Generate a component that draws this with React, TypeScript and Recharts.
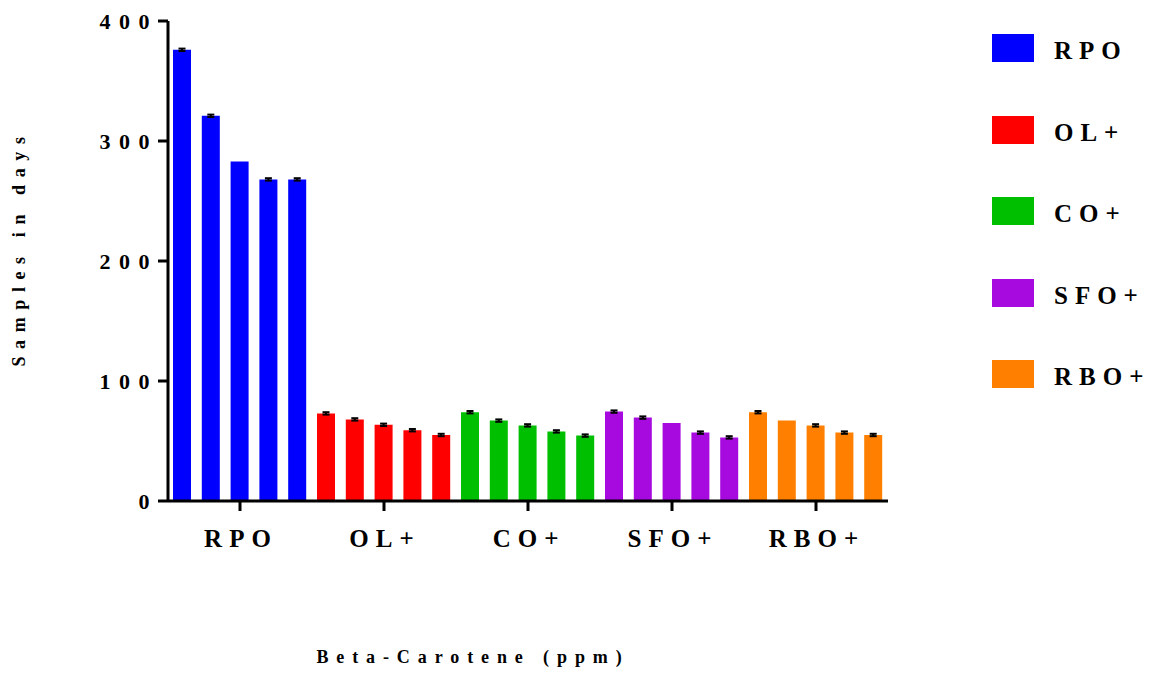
// @ts-nocheck
import { BarChart, Bar, Cell, ErrorBar, XAxis, YAxis } from 'recharts';

const GROUPS = ['RPO', 'OL+', 'CO+', 'SFO+', 'RBO+'];
const COLORS = ['#0000ff', '#ff0000', '#00bf00', '#a70ade', '#ff8000'];

const RPO = [376, 321, 283, 268, 268];
const OL = [73, 68, 63.5, 59, 55];
const CO = [74, 67, 63, 58, 54.5];
const SFO = [74.5, 69.5, 65, 57, 53];
const RBO = [74, 67, 63, 57, 55];
const VALUES = [RPO, OL, CO, SFO, RBO];

const RPO_ERR = [1, 1, 0, 1, 1];
const OL_ERR = [1, 1, 1, 1, 1];
const CO_ERR = [1, 1, 1, 1, 1];
const SFO_ERR = [1, 1, 0, 1, 1];
const RBO_ERR = [1, 0, 1, 1, 1];
const ERRORS = [RPO_ERR, OL_ERR, CO_ERR, SFO_ERR, RBO_ERR];

const Y_TICKS = [0, 100, 200, 300, 400];

const data = GROUPS.flatMap((g, gi) =>
  VALUES[gi].map((v, i) => ({ id: `${g}-${i}`, group: g, gi, value: v, err: ERRORS[gi][i] }))
);

const FONT = "'Liberation Serif', 'Times New Roman', serif";

function YTick({ y, payload }: any) {
  return (
    <text x={158} y={y + 8} textAnchor="end" style={{ fontFamily: FONT }} fontWeight="bold" fontSize={22} letterSpacing={8.5} fill="#000">
      {payload.value}
    </text>
  );
}

function XTick({ x, index }: any) {
  if (index % 5 !== 2) return null;
  const label = GROUPS[Math.floor(index / 5)];
  return (
    <g>
      <line x1={x} x2={x} y1={501} y2={511} stroke="#000" strokeWidth={3} />
      <text x={x + 1} y={547} textAnchor="middle" style={{ fontFamily: FONT }} fontWeight="bold" fontSize={25} letterSpacing={7} fill="#000">
        {label}
      </text>
    </g>
  );
}

export default function App() {
  return (
    <div style={{ position: 'absolute', left: 0, top: 0, width: 1149, height: 677, background: '#fff', fontFamily: FONT }}>
      <BarChart width={1149} height={677} data={data} margin={{ top: 21, right: 261, bottom: 0, left: 108 }}>
        <XAxis
          dataKey="id"
          interval={0}
          height={176}
          tick={<XTick />}
          tickLine={false}
          axisLine={{ stroke: '#000', strokeWidth: 3 }}
        />
        <YAxis
          domain={[0, 400]}
          ticks={Y_TICKS}
          width={60}
          tick={<YTick />}
          tickSize={10}
          tickLine={{ stroke: '#000', strokeWidth: 3 }}
          axisLine={{ stroke: '#000', strokeWidth: 3 }}
        />
        <Bar dataKey="value" barSize={18} isAnimationActive={false}>
          {data.map((d, i) => (
            <Cell key={i} fill={COLORS[d.gi]} />
          ))}
          <ErrorBar dataKey="err" width={3.5} strokeWidth={2} stroke="#000" />
        </Bar>
      </BarChart>

      <div style={{ position: 'absolute', left: 0, top: 0 }}>
        {GROUPS.map((g, i) => (
          <div key={g}>
            <div style={{ position: 'absolute', left: 992, top: 34 + i * 81.5, width: 42, height: 28, background: COLORS[i] }} />
            <div
              style={{
                position: 'absolute',
                left: 1054,
                top: 33 + i * 81.5,
                fontSize: 25,
                fontWeight: 'bold',
                letterSpacing: 7,
                whiteSpace: 'nowrap',
                lineHeight: '36px',
              }}
            >
              {g}
            </div>
          </div>
        ))}
      </div>

      <div
        style={{
          position: 'absolute',
          left: 473,
          top: 646,
          transform: 'translateX(-50%)',
          fontSize: 18,
          fontWeight: 'bold',
          letterSpacing: 7.9,
          whiteSpace: 'nowrap',
          lineHeight: '22px',
        }}
      >
        Beta-Carotene (ppm)
      </div>

      <div
        style={{
          position: 'absolute',
          left: 19,
          top: 248,
          transform: 'translate(-50%, -50%) rotate(-90deg)',
          fontSize: 18,
          fontWeight: 'bold',
          letterSpacing: 7.6,
          whiteSpace: 'nowrap',
          lineHeight: '22px',
        }}
      >
        Samples in days
      </div>
    </div>
  );
}
